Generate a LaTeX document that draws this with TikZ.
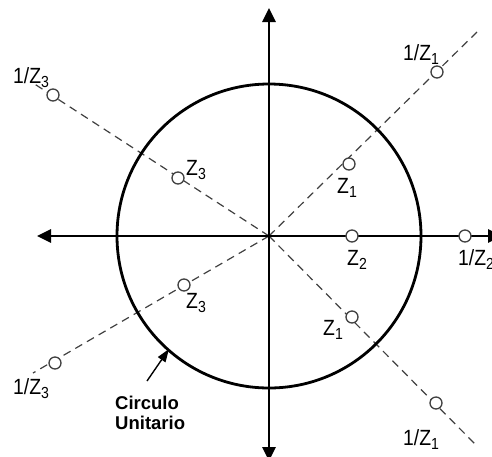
\documentclass[tikz,border=0pt]{standalone}
\usepackage{fontspec}
\setmainfont{Liberation Sans}
\newfontfamily\labfont[FakeStretch=0.88]{Liberation Sans}
\usetikzlibrary{arrows.meta}
\newcommand\zsub[1]{\raisebox{-4pt}{\fontsize{16}{16}\selectfont #1}}
\begin{document}
\begin{tikzpicture}[x=1pt,y=-1pt,
  axisline/.style={line width=2.8pt,{Triangle[length=14pt,width=13pt]}-{Triangle[length=14pt,width=13pt]}},
  ray/.style={line width=1.2pt,draw=black!75,dash pattern=on 8pt off 5.5pt},
  pt/.style={circle,draw=black!75,line width=1.3pt,fill=white,minimum size=12pt,inner sep=0pt},
  lab/.style={anchor=base west,inner sep=0pt,font=\labfont\fontsize{22}{24}\selectfont},
  captext/.style={anchor=base west,inner sep=0pt,font=\bfseries\fontsize{18.5}{20}\selectfont}]
\useasboundingbox (0,0) rectangle (492,456);
% coordinates
\coordinate (o) at (269,236);
\coordinate (e1) at (477,32);
\coordinate (e2) at (33,83);
\coordinate (e3) at (33,373);
\coordinate (e4) at (475,444);
\coordinate (xl) at (37,236);
\coordinate (xr) at (502,236);
\coordinate (yt) at (269,8);
\coordinate (yb) at (269,461);
\coordinate (ca) at (147,381);
\coordinate (cu) at (169,349);
% dashed rays
\draw[ray] (o) -- (e1);
\draw[ray] (o) -- (e2);
\draw[ray] (o) -- (e3);
\draw[ray] (o) -- (e4);
% axes
\draw[axisline] (xl) -- (xr);
\draw[axisline] (yb) -- (yt);
% unit circle
\node[circle,draw,line width=2.8pt,minimum size=304pt,inner sep=0pt] (uc) at (o) {};
% points
\node[pt] (z1) at (349,164) {};
\node[pt] (iz1) at (437,72) {};
\node[pt] (z3) at (178,178) {};
\node[pt] (iz3) at (53,95) {};
\node[pt] (z2) at (352,236) {};
\node[pt] (iz2) at (465,236) {};
\node[pt] (z3b) at (184,285) {};
\node[pt] (iz3b) at (55,363) {};
\node[pt] (z1b) at (352,317) {};
\node[pt] (iz1b) at (436,403) {};
% labels
\node[lab] (liz1) at (403,60) {1/Z\zsub{1}};
\node[lab] (liz3) at (13,83) {1/Z\zsub{3}};
\node[lab] (lz3) at (186,175) {Z\zsub{3}};
\node[lab] (lz1) at (337,193) {Z\zsub{1}};
\node[lab] (lz2) at (347,265) {Z\zsub{2}};
\node[lab] (liz2) at (458,265) {1/Z\zsub{2}};
\node[lab] (lz3b) at (186,308) {Z\zsub{3}};
\node[lab] (lz1b) at (323,335) {Z\zsub{1}};
\node[lab] (liz1b) at (403,445) {1/Z\zsub{1}};
\node[lab] (liz3b) at (13,394) {1/Z\zsub{3}};
% caption and arrow
\draw[line width=1.4pt,-{Triangle[length=13pt,width=9pt]}] (ca) -- (cu);
\node[captext] (cap1) at (115,409) {Circulo};
\node[captext] (cap2) at (115,429) {Unitario};
\end{tikzpicture}
\end{document}
